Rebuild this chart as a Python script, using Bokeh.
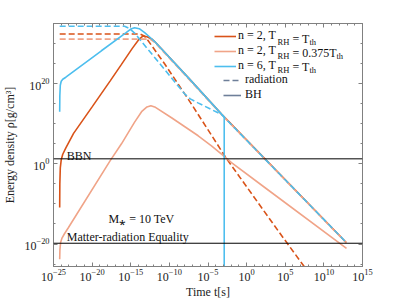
from bokeh.plotting import figure
from bokeh.models import (Range1d, LogAxis, FixedTicker, Span, Label, Legend,
                          LegendItem, CustomJSTickFormatter, ColumnDataSource)
from bokeh.embed import file_html
from bokeh.resources import INLINE

# ---- data: log10(time [s]) and log10(energy density [g/cm^3]) ----
# n = 2, T_RH = T_th  (BH, solid)
lt_o_bh = [-24.2, -24.18, -24.12, -24.0, -23.8, -23.4, -22.4, -20.0, -17.66, -16.2,
           -14.8, -14.0, -13.4, -12.9, -12.3, -11.9, -7.56, -3.25, 12.9]
lr_o_bh = [-10.9, -5.0, -1.0, 1.0, 2.4, 4.0, 7.6, 14.2, 20.7, 24.8,
           28.8, 30.9, 31.9, 31.7, 31.15, 30.5, 21.5, 12.4, -19.6]
# n = 2, T_RH = T_th  (radiation, dashed)
lt_o_rad = [-24.2, -13.8, -13.2, -12.74, -10.6, -7.14, -2.6, 4.08, 7.6]
lr_o_rad = [32.4, 32.4, 31.8, 30.7, 24.9, 14.9, 1.3, -16.7, -26.0]
# n = 2, T_RH = 0.375 T_th  (BH, solid)
lt_s_bh = [-24.2, -24.17, -24.08, -23.9, -23.6, -23.1, -17.66, -16.2, -14.5, -13.6,
           -12.9, -12.4, -11.8, -9.72, -6.27, -4.55, -3.25, -1.96, 2.35, 12.93]
lr_s_bh = [-23.8, -21.5, -19.6, -18.5, -17.5, -16.0, 0.8, 5.0, 10.4, 13.0,
           14.2, 14.5, 14.1, 11.5, 7.0, 4.5, 2.4, 0.3, -5.9, -21.1]
# n = 2, T_RH = 0.375 T_th  (radiation, dashed)
lt_s_rad = [-24.2, -12.5, -11.9, -7.56, -3.25, 12.9]
lr_s_rad = [31.1, 31.1, 30.3, 21.3, 12.3, -19.7]
# n = 6, T_RH = T_th  (BH, solid)
lt_b_bh = [-24.2, -24.18, -24.12, -24.0, -23.8, -23.4, -18.8, -15.6, -15.0, -14.5,
           -13.9, -13.2, -12.3, -11.9, -7.56, -3.25, -2.9, -2.9]
lr_b_bh = [13.0, 17.0, 19.6, 20.6, 21.1, 21.6, 28.2, 32.7, 33.6, 33.95,
           33.7, 32.7, 31.2, 30.5, 21.5, 12.4, 11.7, -30.0]
# n = 6, T_RH = T_th  (radiation, dashed)
lt_b_rad = [-24.2, -15.8, -15.2, -14.5, -8.0, -7.3, -6.3, -3.25, 12.9]
lr_b_rad = [34.3, 34.3, 33.8, 32.6, 17.4, 16.2, 15.2, 12.3, -19.6]

# reference levels (log10 rho)
lr_bbn = 1.25
lr_eq = -19.8

x_major = list(range(-25, 16, 5))
x_minor = list(range(-25, 16, 1))
y_major = [-20, 0, 20]
y_minor = list(range(-25, 36, 5))

ORANGE = "#D95319"
SALMON = "#F0A488"
BLUE = "#4DBEEE"
GREY = "#6E7F99"
FONT = "Liberation Serif"
NAN = float("nan")


def src(lt, lr):
    return ColumnDataSource(dict(t=[10.0 ** v for v in lt], rho=[10.0 ** v for v in lr]))


p = figure(frame_width=309, frame_height=243, x_axis_type="log", y_axis_type="log",
           x_range=Range1d(1e-25, 1e15), y_range=Range1d(10 ** -25.6, 10 ** 35.0),
           output_backend="svg", toolbar_location=None,
           min_border_left=52, min_border_right=30, min_border_top=23, min_border_bottom=26)
p.xgrid.visible = False
p.ygrid.visible = False
p.outline_line_color = "#808080"
p.background_fill_color = "white"

xt = FixedTicker(ticks=[10.0 ** v for v in x_major], minor_ticks=[10.0 ** v for v in x_minor])
yt = FixedTicker(ticks=[10.0 ** v for v in y_major], minor_ticks=[10.0 ** v for v in y_minor])
p.xaxis.ticker = xt
p.yaxis.ticker = yt

p.xaxis.axis_label = "Time t[s]"
p.yaxis.axis_label = "Energy density ρ[g/cm³]"

blank = CustomJSTickFormatter(code="return ''")
p.add_layout(LogAxis(ticker=xt, formatter=blank), "above")
p.add_layout(LogAxis(ticker=yt, formatter=blank), "right")

for ax in p.axis:
    ax.axis_line_color = "#808080"
    ax.major_tick_line_color = "#808080"
    ax.minor_tick_line_color = "#808080"
    ax.major_tick_in = 4
    ax.major_tick_out = 0
    ax.minor_tick_in = 2
    ax.minor_tick_out = 0
    ax.major_label_text_font = FONT
    ax.major_label_text_font_size = "12px"
    ax.major_label_text_color = "#222222"
    ax.major_label_standoff = 4
    ax.axis_label_text_font = FONT
    ax.axis_label_text_font_size = "12px"
    ax.axis_label_text_font_style = "normal"
    ax.axis_label_text_color = "#222222"
    ax.axis_label_standoff = 4

bottom_axis = p.below[0]
bottom_axis.major_label_standoff = 2
bottom_axis.axis_label_standoff = 1

# horizontal reference lines
p.add_layout(Span(location=10 ** lr_bbn, dimension="width", line_color="black", line_width=1))
p.add_layout(Span(location=10 ** lr_eq, dimension="width", line_color="black", line_width=1))

LW = 1.6
DASH = "6 3"
r_o = p.line("t", "rho", source=src(lt_o_bh, lr_o_bh), line_color=ORANGE, line_width=LW)
p.line("t", "rho", source=src(lt_o_rad, lr_o_rad), line_color=ORANGE, line_width=LW, line_dash=DASH)
r_s = p.line("t", "rho", source=src(lt_s_bh, lr_s_bh), line_color=SALMON, line_width=LW)
p.line("t", "rho", source=src(lt_s_rad, lr_s_rad), line_color=SALMON, line_width=LW, line_dash=DASH)
r_b = p.line("t", "rho", source=src(lt_b_bh, lr_b_bh), line_color=BLUE, line_width=LW)
p.line("t", "rho", source=src(lt_b_rad, lr_b_rad), line_color=BLUE, line_width=LW, line_dash=DASH)

# legend proxies (no visible data)
r_rad = p.line(x=[NAN, NAN], y=[NAN, NAN], line_color=GREY, line_width=LW, line_dash=DASH)
r_bh = p.line(x=[NAN, NAN], y=[NAN, NAN], line_color=GREY, line_width=LW)

leg1 = Legend(items=[LegendItem(label="n = 2, T", renderers=[r_o]),
                     LegendItem(label="n = 2, T", renderers=[r_s]),
                     LegendItem(label="n = 6, T", renderers=[r_b])],
              location=(161, 193), glyph_width=22, glyph_height=14, label_height=14,
              label_standoff=2, padding=0, spacing=0, margin=0,
              border_line_alpha=0, background_fill_alpha=0,
              label_text_font=FONT, label_text_font_size="12px", label_text_color="#111111")
leg2 = Legend(items=[LegendItem(label="radiation", renderers=[r_rad]),
                     LegendItem(label="BH", renderers=[r_bh])],
              location=(170, 164), glyph_width=18, glyph_height=14, label_height=14,
              label_standoff=4, padding=0, spacing=0, margin=0,
              border_line_alpha=0, background_fill_alpha=0,
              label_text_font=FONT, label_text_font_size="12px", label_text_color="#111111")
p.add_layout(leg1)
p.add_layout(leg2)

# legend subscript / remainder pieces (positions in log10 data units)
rows = [(31.18, "= T"), (27.69, "= 0.375T"), (24.10, "= T")]
sub_x = [4.0, 4.0, 4.0]
eq_x = [5.94, 5.94, 5.94]
th_x = [8.14, 11.63, 8.14]
for (ly, rest), sx, ex, tx in zip(rows, sub_x, eq_x, th_x):
    p.add_layout(Label(x=10 ** sx, y=10 ** (ly - 0.75), text="RH", text_font=FONT,
                       text_font_size="8.5px", text_baseline="middle", text_color="#111111"))
    p.add_layout(Label(x=10 ** ex, y=10 ** ly, text=rest, text_font=FONT,
                       text_font_size="12px", text_baseline="middle", text_color="#111111"))
    p.add_layout(Label(x=10 ** tx, y=10 ** (ly - 0.75), text="th", text_font=FONT,
                       text_font_size="8.5px", text_baseline="middle", text_color="#111111"))

# annotations
p.add_layout(Label(x=10 ** -23.28, y=10 ** 2.08, text="BBN", text_font=FONT,
                   text_font_size="12px", text_baseline="alphabetic", text_color="#111111"))
p.add_layout(Label(x=10 ** -23.28, y=10 ** -18.24, text="Matter-radiation Equality",
                   text_font=FONT, text_font_size="12px", text_baseline="alphabetic",
                   text_color="#111111"))
p.add_layout(Label(x=10 ** -17.88, y=10 ** -13.7, text="M⁎ = 10 TeV", text_font=FONT,
                   text_font_size="12px", text_baseline="alphabetic", text_color="#111111"))

open("out.html", "w").write(file_html(p, INLINE))
